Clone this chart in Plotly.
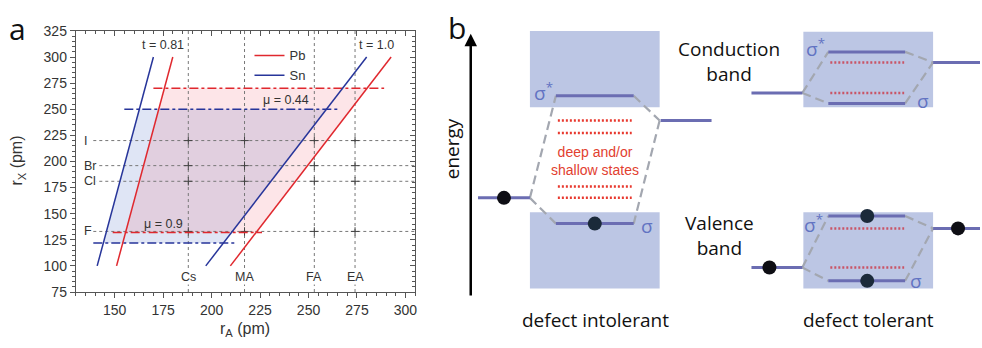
import numpy as np
import plotly.graph_objects as go

W, H = 982, 348

# ---------------- Panel a data ----------------
rx_ends = [100, 300]                 # r_X range of tolerance lines (pm)
pb_t081 = [151, 180]                 # r_A at r_X = 100, 300 (Pb, t=0.81)
pb_t100 = [209.7, 292.6]             # Pb, t=1.0
sn_t081 = [141, 170]                 # Sn, t=0.81
sn_t100 = [197, 280]                 # Sn, t=1.0
pb_mu = [132, 270]                   # r_X at mu = 0.9 and 0.44 (Pb)
sn_mu = [122, 250]                   # Sn
pb_mu_x = [[149, 226], [170, 289]]   # extents of dash-dot lines (Pb)
sn_mu_x = [[139, 212], [155, 265]]   # extents (Sn)
cations = ["Cs", "MA", "FA", "EA"]
cation_r = [188, 217, 253, 274]
anions = ["I", "Br", "Cl", "F"]
anion_r = [220, 196, 181, 133]

# ---------------- Panel b data (diagram units) ----------------
band_boxes = [[531, 24, 661, 104], [531, 214, 661, 294],
              [805, 25, 935, 104], [805, 214, 935, 294]]
levels = [[557, 635, 92], [662, 713, 118], [557, 635, 226], [479, 531, 199],
          [830, 907, 46], [830, 907, 100], [753, 804, 89], [935, 982, 57],
          [830, 907, 218], [830, 907, 286], [753, 804, 272], [935, 982, 231]]
dashed_links = [[531, 199, 557, 92], [531, 199, 557, 226], [635, 92, 661, 118], [661, 118, 635, 226],
                [804, 89, 830, 46], [804, 89, 830, 100], [907, 46, 935, 57], [907, 100, 935, 57],
                [804, 272, 830, 218], [804, 272, 830, 286], [907, 218, 935, 231], [907, 286, 935, 231]]
defect_rows_left = [[559, 633, 118], [559, 633, 131], [559, 633, 187], [559, 633, 199]]
defect_rows_right = [[832, 906, 57], [832, 906, 89], [832, 906, 231], [832, 906, 272]]
electrons_x = [505, 596, 771, 869, 869, 960]
electrons_y = [199, 226, 272, 218, 286, 231]
sigma_labels = [["σ<sup>*</sup>", 545, 88], ["σ", 648, 229], ["σ<sup>*</sup>", 817, 42],
                ["σ", 925, 97], ["σ<sup>*</sup>", 815, 226], ["σ", 918, 286]]

RED = "#e0282e"
BLUE = "#27359a"
AX_FONT = "Liberation Sans, Arial, sans-serif"
B_FONT = "Open Sans, sans-serif"


def px(x):
    return x / W


def py(y):
    return 1 - y / H


fig = go.Figure()


def band_polygon(t_low, t_high, y0, y1):
    xa = np.interp([y0, y1], rx_ends, t_low)
    xb = np.interp([y1, y0], rx_ends, t_high)
    return [xa[0], xa[1], xb[0], xb[1], xa[0]], [y0, y1, y1, y0, y0]


# fills
sx, sy = band_polygon(sn_t081, sn_t100, sn_mu[0], sn_mu[1])
fig.add_trace(go.Scatter(x=sx, y=sy, fill="toself", mode="none",
                         fillcolor="rgba(80,110,200,0.18)", showlegend=False, hoverinfo="skip"))
pxs, pys = band_polygon(pb_t081, pb_t100, pb_mu[0], pb_mu[1])
fig.add_trace(go.Scatter(x=pxs, y=pys, fill="toself", mode="none",
                         fillcolor="rgba(240,80,100,0.15)", showlegend=False, hoverinfo="skip"))

# grid lines (dotted)
gx, gy = [], []
for r in cation_r:
    gx += [r, r, None]
    gy += [75, 325, None]
for r in anion_r:
    gx += [139, 305, None]
    gy += [r, r, None]
fig.add_trace(go.Scatter(x=gx, y=gy, mode="lines", line=dict(color="#777", width=1, dash="dot"),
                         showlegend=False, hoverinfo="skip"))
cx = [c for c in cation_r for _ in anion_r]
cy = [a for _ in cation_r for a in anion_r]
fig.add_trace(go.Scatter(x=cx, y=cy, mode="markers",
                         marker=dict(symbol="cross-thin", size=6, line=dict(color="#444", width=1)),
                         showlegend=False, hoverinfo="skip"))

# mu lines
for (x0, x1), yv in zip(pb_mu_x, pb_mu):
    fig.add_trace(go.Scatter(x=[x0, x1], y=[yv, yv], mode="lines",
                             line=dict(color=RED, width=1.5, dash="dashdot"), showlegend=False))
for (x0, x1), yv in zip(sn_mu_x, sn_mu):
    fig.add_trace(go.Scatter(x=[x0, x1], y=[yv, yv], mode="lines",
                             line=dict(color=BLUE, width=1.5, dash="dashdot"), showlegend=False))

# tolerance lines
fig.add_trace(go.Scatter(x=pb_t081, y=rx_ends, mode="lines", line=dict(color=RED, width=1.5),
                         name="Pb", legendgroup="pb"))
fig.add_trace(go.Scatter(x=pb_t100, y=rx_ends, mode="lines", line=dict(color=RED, width=1.5),
                         showlegend=False, legendgroup="pb"))
fig.add_trace(go.Scatter(x=sn_t081, y=rx_ends, mode="lines", line=dict(color=BLUE, width=1.5),
                         name="Sn", legendgroup="sn"))
fig.add_trace(go.Scatter(x=sn_t100, y=rx_ends, mode="lines", line=dict(color=BLUE, width=1.5),
                         showlegend=False, legendgroup="sn"))

# dummy trace for mirrored inside ticks
fig.add_trace(go.Scatter(x=[None], y=[None], xaxis="x3", yaxis="y3", showlegend=False))

# ---------------- Panel b ----------------
shapes = []
for x0, y0, x1, y1 in band_boxes:
    shapes.append(dict(type="rect", xref="x2", yref="y2", x0=x0, y0=y0, x1=x1, y1=y1,
                       fillcolor="#bcc6e4", line=dict(width=0), layer="below"))

lx, ly = [], []
for x0, x1, yv in levels:
    lx += [x0, x1, None]
    ly += [yv, yv, None]
dx, dy = [], []
for x0, y0, x1, y1 in dashed_links:
    dx += [x0, x1, None]
    dy += [y0, y1, None]
fig.add_trace(go.Scatter(x=dx, y=dy, mode="lines", xaxis="x2", yaxis="y2",
                         line=dict(color="#a3a7b0", width=2.2, dash="9px,5px"), showlegend=False))
fig.add_trace(go.Scatter(x=lx, y=ly, mode="lines", xaxis="x2", yaxis="y2",
                         line=dict(color="#6b6db2", width=3), showlegend=False))
for rows, col in [(defect_rows_left, "#e8382e"), (defect_rows_right, "#c95466")]:
    rx_, ry_ = [], []
    for x0, x1, yv in rows:
        rx_ += [x0, x1, None]
        ry_ += [yv, yv, None]
    fig.add_trace(go.Scatter(x=rx_, y=ry_, mode="lines", xaxis="x2", yaxis="y2",
                             line=dict(color=col, width=2.5, dash="2px,2px"), showlegend=False))
fig.add_trace(go.Scatter(x=electrons_x, y=electrons_y, mode="markers", xaxis="x2", yaxis="y2",
                         marker=dict(size=14, color=["#0e0e14", "#1b2a3a", "#0e0e14", "#1b2a3a", "#1b2a3a", "#0e0e14"]),
                         showlegend=False))

ann = []
for txt, x, y in sigma_labels:
    ann.append(dict(text=txt, x=x, y=y, xref="x2", yref="y2", showarrow=False,
                    font=dict(family=B_FONT, size=19, color="#6273c2")))
# energy arrow
ann.append(dict(x=471.7, y=27, ax=471.7, ay=303, xref="x2", yref="y2", axref="x2", ayref="y2",
                showarrow=True, arrowhead=2, arrowsize=1, arrowwidth=2.5, arrowcolor="black", text=""))
big = dict(family=B_FONT, size=19, color="#111")
ann.append(dict(text="energy", x=453, y=148, xref="x2", yref="y2", textangle=-90, showarrow=False, font=big))
ann.append(dict(text="deep and/or<br>shallow states", x=596, y=160, xref="x2", yref="y2", showarrow=False,
                font=dict(family=AX_FONT, size=14, color="#e2402f")))
ann.append(dict(text="Conduction<br>band", x=730, y=56, xref="x2", yref="y2", showarrow=False,
                font=big, align="center"))
ann.append(dict(text="Valence<br>band", x=721, y=238, xref="x2", yref="y2", showarrow=False,
                font=big, align="center"))
ann.append(dict(text="defect intolerant", x=597, y=327, xref="x2", yref="y2", showarrow=False, font=big))
ann.append(dict(text="defect tolerant", x=870, y=327, xref="x2", yref="y2", showarrow=False, font=big))


def pann(text, x, y, font, **kw):
    d = dict(text=text, x=px(x), y=py(y), xref="paper", yref="paper", showarrow=False,
             xanchor="center", yanchor="middle", font=font)
    d.update(kw)
    return d


# panel labels
ann.append(pann("a", 18, 22, dict(family=B_FONT, size=30, color="#111")))
ann.append(pann("b", 458, 20, dict(family=B_FONT, size=30, color="#111")))

# panel a text
small = dict(family=AX_FONT, size=12.5, color="#333")
ann.append(pann("t = 0.81", 163, 39, small))
ann.append(pann("t = 1.0", 377, 39, small))
ann.append(pann("μ = 0.44", 287, 96, small))
ann.append(pann("μ = 0.9", 164, 226, small))
for name, r in zip(cations, cation_r):
    ann.append(dict(text=name, x=r, y=py(282), xref="x", yref="paper", xanchor="center", yanchor="middle",
                    showarrow=False, font=small, bgcolor="white", borderpad=0))
for name, r in zip(anions, anion_r):
    ann.append(dict(text=name, x=px(83), y=r, xref="paper", yref="y", xanchor="left", yanchor="middle",
                    showarrow=False, font=small, bgcolor="white", borderpad=0))
ann.append(pann("r<sub>X</sub> (pm)", 18, 160, dict(family=AX_FONT, size=16, color="#333"), textangle=-90))
ann.append(pann("r<sub>A</sub> (pm)", 246, 337, dict(family=AX_FONT, size=16, color="#333")))

axis_common = dict(showgrid=False, zeroline=False, linecolor="#555", linewidth=1.2,
                   tickfont=dict(family=AX_FONT, size=14, color="#333"), tickcolor="#555")
xdom = [px(76), px(416)]
ydom = [py(297.7), py(24)]

fig.update_layout(
    width=W, height=H, margin=dict(l=0, r=0, t=0, b=0),
    paper_bgcolor="white", plot_bgcolor="white",
    xaxis=dict(domain=xdom, range=[130, 305], tickvals=[150, 175, 200, 225, 250, 275, 300],
               ticks="outside", ticklen=5, minor=dict(dtick=5, ticks="outside", ticklen=3, tickcolor="#555"),
               mirror=True, anchor="y", **axis_common),
    yaxis=dict(domain=ydom, range=[75, 325], dtick=25, ticks="outside", ticklen=5,
               minor=dict(dtick=5, ticks="outside", ticklen=3, tickcolor="#555"),
               mirror=True, anchor="x", **axis_common),
    xaxis3=dict(overlaying="x", side="top", range=[130, 305], tickvals=[150, 175, 200, 225, 250, 275, 300],
                ticks="inside", ticklen=5, showticklabels=False, showgrid=False, zeroline=False,
                showline=False, tickcolor="#555", minor=dict(dtick=5, ticks="inside", ticklen=3, tickcolor="#555"),
                anchor="y3"),
    yaxis3=dict(overlaying="y", side="right", range=[75, 325], dtick=25, ticks="inside", ticklen=5,
                showticklabels=False, showgrid=False, zeroline=False, showline=False, tickcolor="#555",
                minor=dict(dtick=5, ticks="inside", ticklen=3, tickcolor="#555"), anchor="x3"),
    xaxis2=dict(domain=[px(447), 1], range=[447, 982], visible=False, anchor="y2"),
    yaxis2=dict(domain=[0, 1], range=[348, 0], visible=False, anchor="x2"),
    legend=dict(x=px(250), y=py(34), xanchor="left", yanchor="top", bgcolor="rgba(0,0,0,0)",
                font=dict(family=AX_FONT, size=13, color="#333"), tracegroupgap=0),
    shapes=shapes, annotations=ann, showlegend=True,
)

fig.write_html("out.html")
